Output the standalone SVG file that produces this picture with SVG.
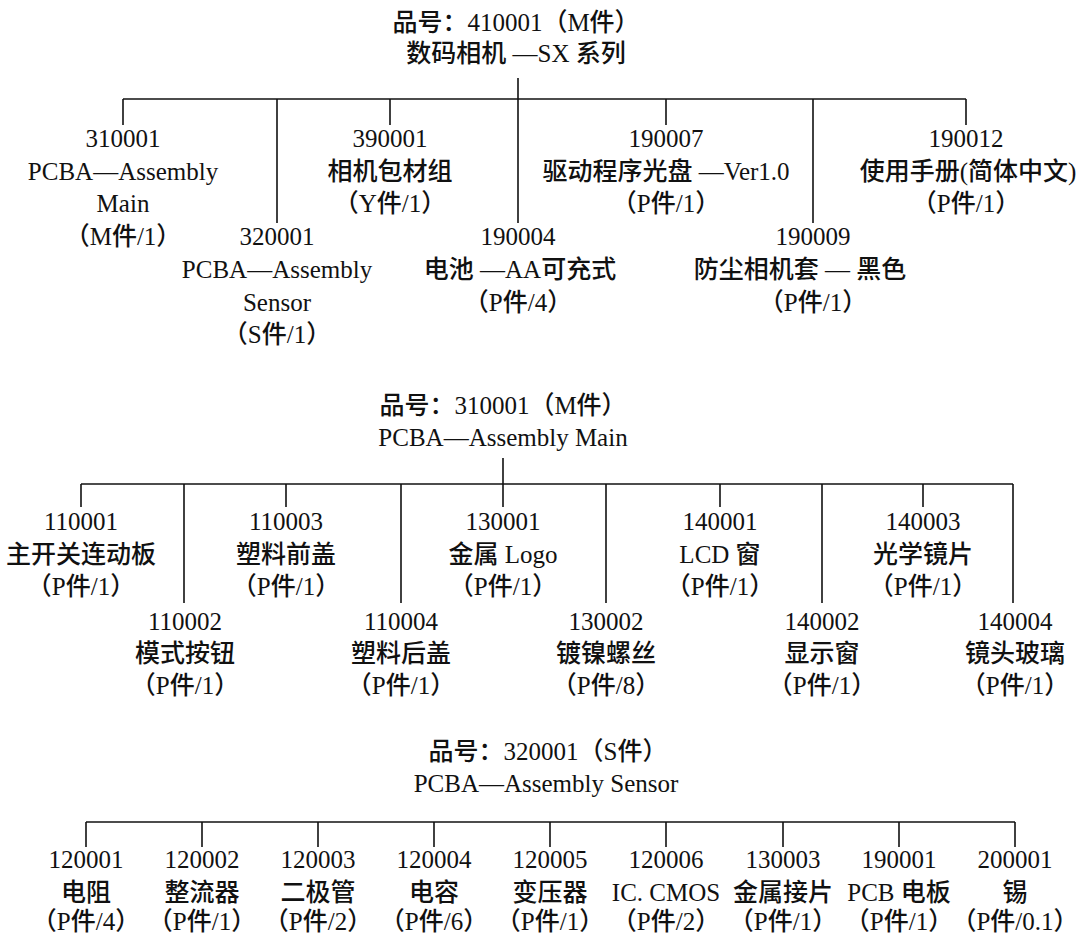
<svg xmlns="http://www.w3.org/2000/svg" width="1087" height="936" viewBox="0 0 1087 936">
<style>
text{font-family:"Liberation Serif","Noto Sans CJK SC",serif;font-size:25px;font-weight:500;fill:#111;text-anchor:middle}
.c line{stroke:#111;stroke-width:1.6;fill:none}
</style>
<rect width="1087" height="936" fill="#fff"/>
<g class="c" id="connectors">
<line x1="518" y1="78" x2="518" y2="99"/>
<line x1="123" y1="99" x2="966" y2="99"/>
<line x1="123" y1="99" x2="123" y2="125"/>
<line x1="277" y1="99" x2="277" y2="223"/>
<line x1="390" y1="99" x2="390" y2="125"/>
<line x1="518" y1="99" x2="518" y2="223"/>
<line x1="666" y1="99" x2="666" y2="125"/>
<line x1="813" y1="99" x2="813" y2="223"/>
<line x1="966" y1="99" x2="966" y2="125"/>
<line x1="503" y1="458" x2="503" y2="484"/>
<line x1="81" y1="484" x2="1013" y2="484"/>
<line x1="81" y1="484" x2="81" y2="507"/>
<line x1="184" y1="484" x2="184" y2="603"/>
<line x1="286" y1="484" x2="286" y2="507"/>
<line x1="401" y1="484" x2="401" y2="603"/>
<line x1="503" y1="484" x2="503" y2="507"/>
<line x1="606" y1="484" x2="606" y2="603"/>
<line x1="720" y1="484" x2="720" y2="507"/>
<line x1="822" y1="484" x2="822" y2="603"/>
<line x1="923" y1="484" x2="923" y2="507"/>
<line x1="1013" y1="484" x2="1013" y2="603"/>
<line x1="86" y1="822" x2="1015" y2="822"/>
<line x1="86" y1="822" x2="86" y2="847"/>
<line x1="202" y1="822" x2="202" y2="847"/>
<line x1="318" y1="822" x2="318" y2="847"/>
<line x1="434" y1="822" x2="434" y2="847"/>
<line x1="550" y1="822" x2="550" y2="847"/>
<line x1="666" y1="822" x2="666" y2="847"/>
<line x1="783" y1="822" x2="783" y2="847"/>
<line x1="899" y1="822" x2="899" y2="847"/>
<line x1="1015" y1="822" x2="1015" y2="847"/>
</g>
<g id="n410001"><text x="516" y="31">品号：410001（M件）</text><text x="516" y="62">数码相机 —SX 系列</text></g>
<g id="n310001"><text x="123" y="147">310001</text><text x="123" y="180">PCBA—Assembly</text><text x="123" y="212">Main</text><text x="123" y="245">（M件/1）</text></g>
<g id="n390001"><text x="390" y="147">390001</text><text x="390" y="180">相机包材组</text><text x="390" y="212">（Y件/1）</text></g>
<g id="n190007"><text x="666" y="147">190007</text><text x="666" y="180">驱动程序光盘 —Ver1.0</text><text x="666" y="212">（P件/1）</text></g>
<g id="n190012"><text x="966" y="147">190012</text><text x="968" y="180">使用手册(简体中文)</text><text x="966" y="212">（P件/1）</text></g>
<g id="n320001"><text x="277" y="245">320001</text><text x="277" y="278">PCBA—Assembly</text><text x="277" y="311">Sensor</text><text x="277" y="343">（S件/1）</text></g>
<g id="n190004"><text x="518" y="245">190004</text><text x="520" y="278">电池 —AA可充式</text><text x="518" y="311">（P件/4）</text></g>
<g id="n190009"><text x="813" y="245">190009</text><text x="800" y="278">防尘相机套 — 黑色</text><text x="813" y="311">（P件/1）</text></g>
<g id="m310001"><text x="503" y="414">品号：310001（M件）</text><text x="503" y="446">PCBA—Assembly Main</text></g>
<g id="n110001"><text x="81" y="530">110001</text><text x="81" y="563">主开关连动板</text><text x="81" y="595">（P件/1）</text></g>
<g id="n110003"><text x="286" y="530">110003</text><text x="286" y="563">塑料前盖</text><text x="286" y="595">（P件/1）</text></g>
<g id="n130001"><text x="503" y="530">130001</text><text x="503" y="563">金属 Logo</text><text x="503" y="595">（P件/1）</text></g>
<g id="n140001"><text x="720" y="530">140001</text><text x="720" y="563">LCD 窗</text><text x="720" y="595">（P件/1）</text></g>
<g id="n140003"><text x="923" y="530">140003</text><text x="923" y="563">光学镜片</text><text x="923" y="595">（P件/1）</text></g>
<g id="n110002"><text x="185" y="630">110002</text><text x="185" y="662">模式按钮</text><text x="185" y="694">（P件/1）</text></g>
<g id="n110004"><text x="401" y="630">110004</text><text x="401" y="662">塑料后盖</text><text x="401" y="694">（P件/1）</text></g>
<g id="n130002"><text x="606" y="630">130002</text><text x="606" y="662">镀镍螺丝</text><text x="606" y="694">（P件/8）</text></g>
<g id="n140002"><text x="822" y="630">140002</text><text x="822" y="662">显示窗</text><text x="822" y="694">（P件/1）</text></g>
<g id="n140004"><text x="1015" y="630">140004</text><text x="1015" y="662">镜头玻璃</text><text x="1015" y="694">（P件/1）</text></g>
<g id="m320001"><text x="548" y="760">品号：320001（S件）</text><text x="546" y="792">PCBA—Assembly Sensor</text></g>
<g id="n120001"><text x="86" y="868">120001</text><text x="86" y="901">电阻</text><text x="86" y="930">（P件/4）</text></g>
<g id="n120002"><text x="202" y="868">120002</text><text x="202" y="901">整流器</text><text x="202" y="930">（P件/1）</text></g>
<g id="n120003"><text x="318" y="868">120003</text><text x="318" y="901">二极管</text><text x="318" y="930">（P件/2）</text></g>
<g id="n120004"><text x="434" y="868">120004</text><text x="434" y="901">电容</text><text x="434" y="930">（P件/6）</text></g>
<g id="n120005"><text x="550" y="868">120005</text><text x="550" y="901">变压器</text><text x="550" y="930">（P件/1）</text></g>
<g id="n120006"><text x="666" y="868">120006</text><text x="666" y="901">IC. CMOS</text><text x="666" y="930">（P件/2）</text></g>
<g id="n130003"><text x="783" y="868">130003</text><text x="783" y="901">金属接片</text><text x="783" y="930">（P件/1）</text></g>
<g id="n190001"><text x="899" y="868">190001</text><text x="899" y="901">PCB 电板</text><text x="899" y="930">（P件/1）</text></g>
<g id="n200001"><text x="1015" y="868">200001</text><text x="1015" y="901">锡</text><text x="1015" y="930">（P件/0.1）</text></g>
</svg>
